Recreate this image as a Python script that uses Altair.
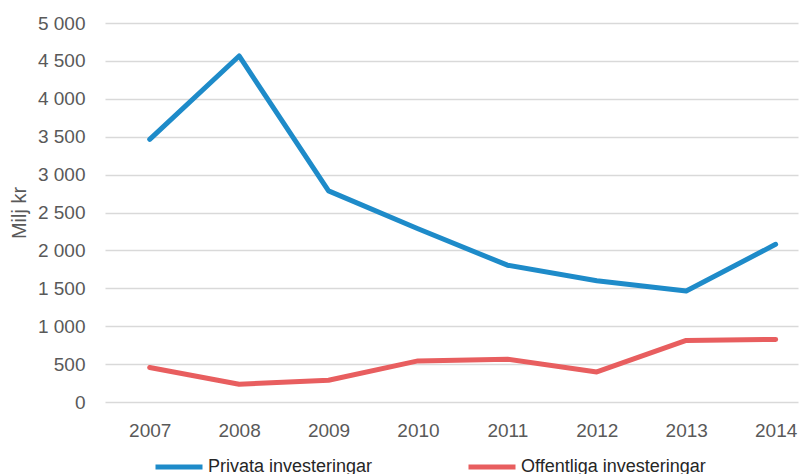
import altair as alt
import pandas as pd

years = [2007, 2008, 2009, 2010, 2011, 2012, 2013, 2014]
privata = [3465, 4565, 2785, 2285, 1805, 1600, 1465, 2080]
offentliga = [455, 235, 287, 542, 565, 397, 812, 826]
series_names = ["Privata investeringar", "Offentliga investeringar"]
colors = ["#1e8bc9", "#e85e5f"]

rows = []
for name, vals in zip(series_names, [privata, offentliga]):
    for y, v in zip(years, vals):
        rows.append({"År": y, "Värde": v, "Serie": name})
df = pd.DataFrame(rows)

FONT = "Liberation Sans, sans-serif"

chart = alt.Chart(df).mark_line(strokeWidth=5, strokeCap="round", strokeJoin="round").encode(
    x=alt.X("År:Q",
            scale=alt.Scale(domain=[2006.5, 2014.25], nice=False, zero=False),
            axis=alt.Axis(title=None, values=years, format="d", labelAngle=0, grid=False,
                          domain=False, ticks=False, labelPadding=19, labelFontSize=19,
                          labelColor="#595959", labelFont=FONT, labelFlush=False)),
    y=alt.Y("Värde:Q",
            scale=alt.Scale(domain=[0, 5000], nice=False),
            axis=alt.Axis(title="Milj kr", values=list(range(0, 5001, 500)),
                          labelExpr="replace(format(datum.value, ','), ',', ' ')",
                          domain=False, ticks=False, labelPadding=20,
                          labelFontSize=19, labelColor="#595959", labelFont=FONT,
                          titleFontSize=20, titleFontWeight="normal", titleColor="#595959",
                          titleFont=FONT, titlePadding=8,
                          gridColor="#d9d9d9", gridWidth=1.6)),
    color=alt.Color("Serie:N", sort=series_names,
                    scale=alt.Scale(domain=series_names, range=colors),
                    legend=alt.Legend(title=None, orient="none", direction="horizontal",
                                      legendX=48, legendY=418, symbolType="stroke",
                                      symbolSize=2209, symbolStrokeWidth=5,
                                      labelFontSize=18, labelColor="#262626", labelFont=FONT,
                                      labelLimit=400, labelOffset=3, columnPadding=85)),
).properties(
    width=693, height=379,
    autosize=alt.AutoSizeParams(type="none"),
    padding={"left": 97, "top": 15, "right": 3, "bottom": 82},
).configure_view(stroke=None)

chart.save("out.html", embed_options={"renderer": "svg", "actions": False})
